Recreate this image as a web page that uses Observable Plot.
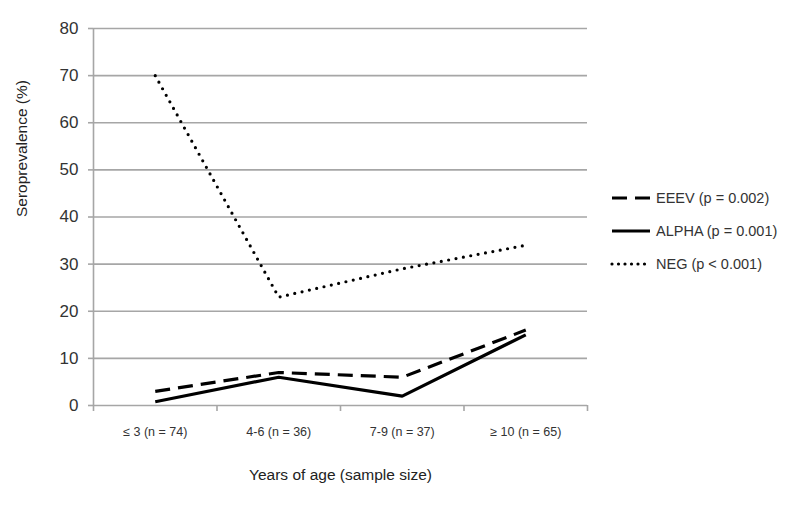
<!DOCTYPE html>
<html>
<head>
<meta charset="utf-8">
<script src="https://cdn.jsdelivr.net/npm/d3@7"></script>
<script src="https://cdn.jsdelivr.net/npm/@observablehq/plot@0.6"></script>
<style>
  html, body { margin: 0; padding: 0; background: #fff; }
  #wrap { position: relative; width: 799px; height: 519px; font-family: "Liberation Sans", Arial, sans-serif; }
  #legend { position: absolute; left: 609px; top: 181px; font-size: 14.5px; color: #333; }
  #legend .row { display: flex; align-items: center; height: 33px; }
  #legend svg { margin-right: 3px; }
</style>
</head>
<body>
<div id="wrap"><div id="chart"></div><div id="legend"></div></div>
<script>
const categories = ["≤ 3 (n = 74)", "4-6 (n = 36)", "7-9 (n = 37)", "≥ 10 (n = 65)"];
const eeev = [3, 7, 6, 16];
const alpha = [0.8, 6, 2, 15];
const neg = [70, 23, 29, 34];
const seriesNames = ["EEEV (p = 0.002)", "ALPHA (p = 0.001)", "NEG (p < 0.001)"];
const yTicks = [0, 10, 20, 30, 40, 50, 60, 70, 80];

const styles = {
  "EEEV (p = 0.002)": {dash: "15,8", cap: "butt"},
  "ALPHA (p = 0.001)": {dash: null, cap: "butt"},
  "NEG (p < 0.001)": {dash: "0,7.5", cap: "round"}
};

const rows = [];
[eeev, alpha, neg].forEach((vals, s) => {
  vals.forEach((v, i) => rows.push({series: seriesNames[s], i: i + 0.5, value: v}));
});
const boundaries = d3.range(categories.length + 1);
const centers = categories.map((c, i) => i + 0.5);

const lineMarks = seriesNames.map(name => Plot.line(rows.filter(d => d.series === name), {
  x: "i", y: "value", stroke: "#000", strokeWidth: 3.2,
  strokeDasharray: styles[name].dash, strokeLinecap: styles[name].cap, strokeLinejoin: "miter"
}));

const chart = Plot.plot({
  width: 799,
  height: 519,
  marginLeft: 93,
  marginRight: 212,
  marginTop: 28,
  marginBottom: 114,
  style: {fontFamily: "Liberation Sans, Arial, sans-serif", background: "#fff", color: "#333"},
  x: {type: "linear", domain: [0, categories.length]},
  y: {domain: [0, 80]},
  marks: [
    Plot.gridY(yTicks, {stroke: "#a6a6a6", strokeOpacity: 1, strokeWidth: 1.6}),
    Plot.ruleX([0], {stroke: "#a6a6a6", strokeWidth: 1.6}),
    Plot.axisY(yTicks, {tickSize: 5, tickPadding: 10, fontSize: 17, stroke: "#a6a6a6", strokeWidth: 1.6, fill: "#333", label: null}),
    Plot.axisX(boundaries, {tickSize: 6, tickFormat: () => "", stroke: "#a6a6a6", strokeWidth: 1.6, label: null}),
    Plot.axisX(centers, {tickSize: 0, tickPadding: 22, fontSize: 12.5, fill: "#333", tickFormat: (d) => categories[Math.floor(d)], label: null}),
    ...lineMarks,
    Plot.text(["Seroprevalence (%)"], {frameAnchor: "left", dx: -71, rotate: -90, fontSize: 15.5, fill: "#222"}),
    Plot.text(["Years of age (sample size)"], {frameAnchor: "bottom", dy: 74, fontSize: 15.5, fill: "#222"})
  ]
});
document.getElementById("chart").appendChild(chart);

const legend = document.getElementById("legend");
seriesNames.forEach(name => {
  const row = document.createElement("div");
  row.className = "row";
  const st = styles[name];
  row.innerHTML = `<svg width="44" height="10"><line x1="3" x2="41" y1="5" y2="5" stroke="#000" stroke-width="3.2" ${st.dash ? `stroke-dasharray="${name.startsWith("EEEV") ? "15,8" : "0,6.5"}"` : ""} stroke-linecap="${st.cap}"/></svg><span>${name}</span>`;
  legend.appendChild(row);
});
</script>
</body>
</html>
